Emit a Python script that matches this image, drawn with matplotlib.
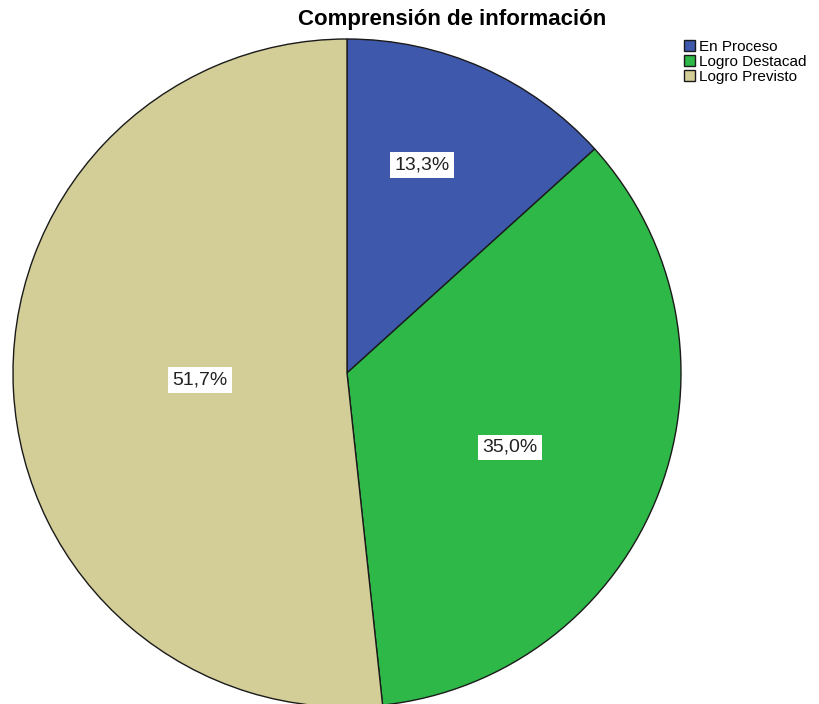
import matplotlib.pyplot as plt
from matplotlib import rcParams

rcParams['font.family'] = ['Liberation Sans', 'DejaVu Sans']

categories = ['En Proceso', 'Logro Destacad', 'Logro Previsto']
percents = [13.3, 35.0, 51.7]
colors = ['#3e58ac', '#2eb848', '#d3ce97']
title = 'Comprensión de información'

# label positions (fraction of radius, from centre)
label_pos = [(0.225, 0.623), (0.488, -0.222), (-0.44, -0.021)]

W, H = 819, 704
fig = plt.figure(figsize=(W / 100, H / 100), dpi=100)

# pie centre at (347, 373) px, radius 334 px
cx, cy, r = 347, 373, 334
ax = fig.add_axes([(cx - r) / W, (H - cy - r) / H, 2 * r / W, 2 * r / H])

wedges, texts, autotexts = ax.pie(
    percents, colors=colors, startangle=90, counterclock=False, radius=1,
    autopct=lambda p: ('%.1f%%' % p).replace('.', ','),
    wedgeprops=dict(edgecolor='#1a1a1a', linewidth=1.0),
    textprops=dict(fontsize=14, color='#222222'))
ax.set_xlim(-1, 1)
ax.set_ylim(-1, 1)
ax.set_aspect('auto')
ax.axis('off')
for w in wedges:
    w.set_clip_on(False)

for t, (x, y) in zip(autotexts, label_pos):
    t.set_position((x, y))
    t.set_ha('center')
    t.set_va('center')
    t.set_bbox(dict(facecolor='white', edgecolor='none', pad=3))

fig.text(452 / W, 1 - 19 / H, title, ha='center', va='center',
         fontsize=16, fontweight='bold')

leg = fig.legend(wedges, categories, loc='upper left',
                 bbox_to_anchor=(684 / W, 1 - 40 / H), frameon=False,
                 fontsize=11, handlelength=0.75, handleheight=0.75,
                 handletextpad=0.25, labelspacing=0.05, borderpad=0,
                 borderaxespad=0)

fig.savefig('out.png', dpi=100)
